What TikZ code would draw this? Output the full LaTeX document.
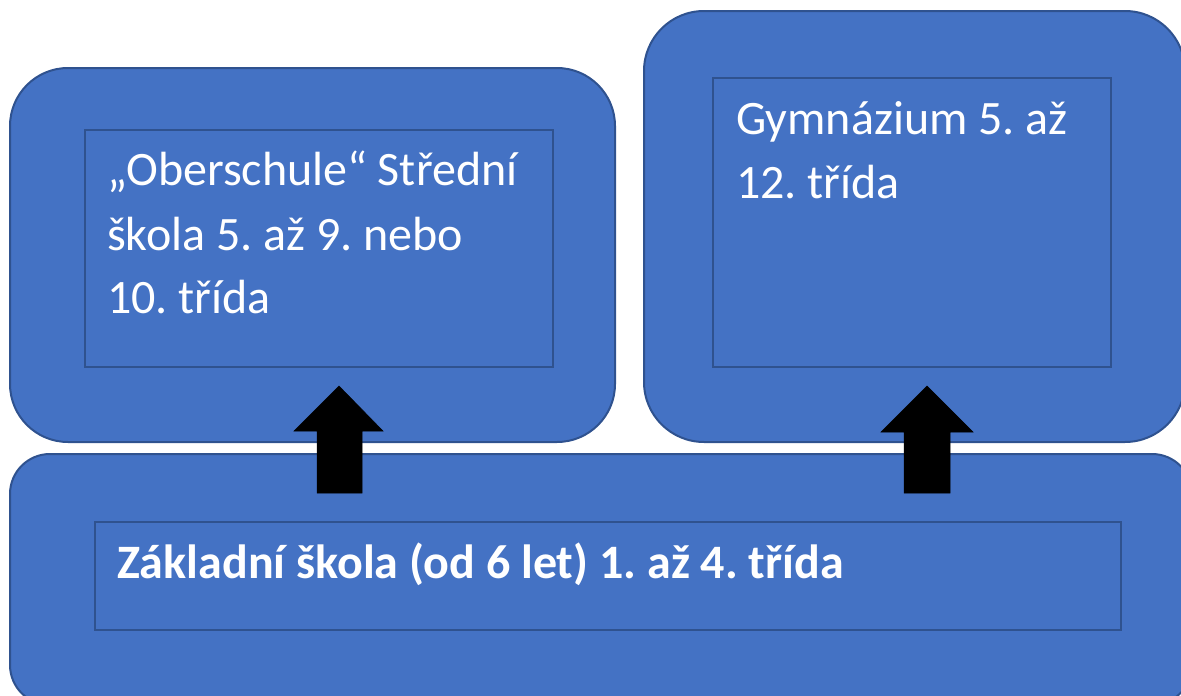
\documentclass[tikz,border=0pt]{standalone}
\usepackage{fontspec}
\setmainfont{Carlito}
\frenchspacing
\definecolor{boxfill}{HTML}{4472C4}
\definecolor{boxline}{HTML}{2F528F}
\tikzset{
  outerbox/.style={fill=boxfill, draw=boxline, line width=2pt},
  innerbox/.style={draw=boxline, line width=2.5pt},
  txt/.style={anchor=base west, inner sep=0pt, text=white, font=\frenchspacing\fontsize{48}{64}\selectfont},
  btxt/.style={txt, font=\frenchspacing\fontsize{48}{64}\selectfont\bfseries},
  blockarrow/.style={fill=black, draw=black, line width=0.5pt}
}
\begin{document}
\begin{tikzpicture}[x=1pt,y=-1pt]
\useasboundingbox (0,0) rectangle (1181,696);
\clip (0,0) rectangle (1181,696);
% outer rounded boxes
\draw[outerbox, rounded corners=58pt] (10,68) rectangle (615,442);
\draw[outerbox, rounded corners=60pt] (644,11) rectangle (1185,442);
\draw[outerbox, rounded corners=40pt] (10,454) rectangle (1192,705);
% inner rectangles
\draw[innerbox] (85,130) rectangle (553,367);
\draw[innerbox] (713,78) rectangle (1111,367);
\draw[innerbox] (95,522) rectangle (1121,630);
% texts
\node[txt] (l1) at (107,185) {„Oberschule“ Střední};
\node[txt] (l2) at (107,250) {škola 5. až 9. nebo};
\node[txt] (l3) at (107,313) {10. třída};
\node[txt] (r1) at (736,134) {Gymnázium 5. až};
\node[txt] (r2) at (736,198) {12. třída};
\node[btxt] (b1) at (117,578) {Základní škola (od 6 let) 1. až 4. třída};
% block arrows
\draw[blockarrow] (317,493) -- (317,431) -- (294,431) -- (339,386) -- (383,431) -- (362,431) -- (362,493) -- cycle;
\draw[blockarrow] (904,493) -- (904,432) -- (881,432) -- (927,386) -- (973,432) -- (950,432) -- (950,493) -- cycle;
\end{tikzpicture}
\end{document}
